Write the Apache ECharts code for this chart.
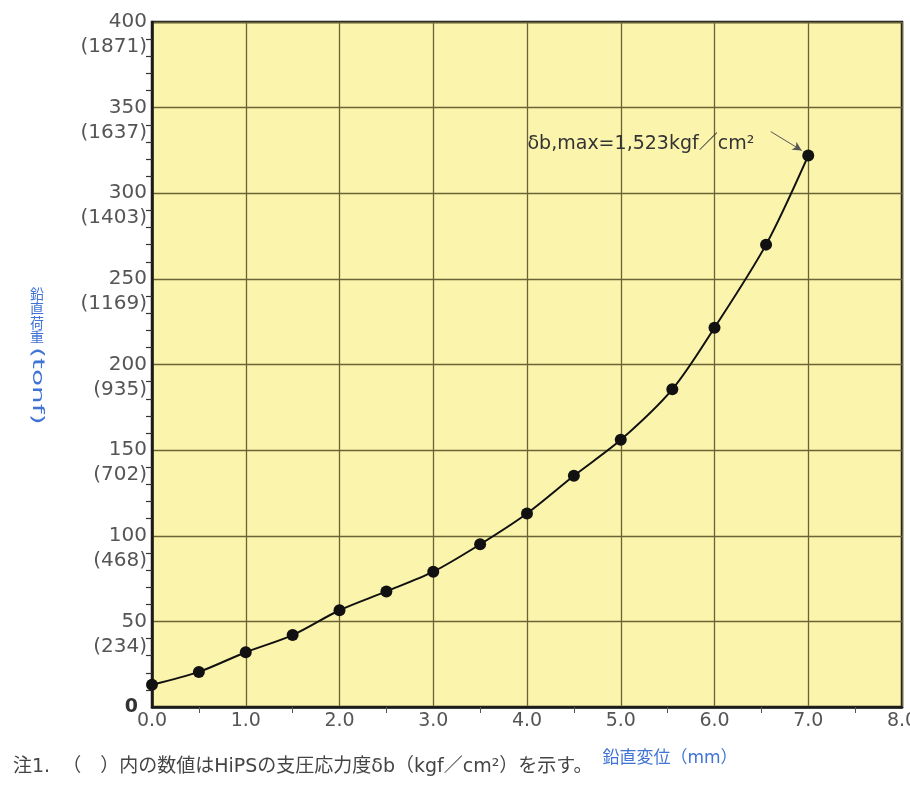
<!DOCTYPE html>
<html><head><meta charset="utf-8">
<script src="https://cdn.jsdelivr.net/npm/echarts@6/dist/echarts.min.js"></script>
<style>html,body{margin:0;padding:0;background:#fff}#c{width:910px;height:805px}</style>
</head><body><div id="c"></div>
<script>
// Data
const displacement = [0.0, 0.5, 1.0, 1.5, 2.0, 2.5, 3.0, 3.5, 4.0, 4.5, 5.0, 5.55, 6.0, 6.55, 7.0];
const load = [13, 20.5, 32, 42, 56.5, 67.5, 79, 95, 113, 135, 156, 185.5, 221.5, 270, 322];
const loadTicks = [0, 50, 100, 150, 200, 250, 300, 350, 400];
const stressTicks = [null, 234, 468, 702, 935, 1169, 1403, 1637, 1871];
const xTicks = ['0.0','1.0','2.0','3.0','4.0','5.0','6.0','7.0','8.0'];
const annotationText = 'δb,max=1,523kgf／cm²';
const xName = '鉛直変位（mm）';
const yNameJa = '鉛直荷重';
const yNameUnit = '(tonf)';
const footnote = '注1.  （　）内の数値はHiPSの支圧応力度δb（kgf／cm²）を示す。';

const FONT = '"DejaVu Sans", "Noto Sans CJK JP", sans-serif';
const CJK = '"Noto Sans CJK JP", sans-serif';
const chart = echarts.init(document.getElementById('c'));
const pts = displacement.map((x, i) => [x, load[i]]);

chart.setOption({
  backgroundColor: '#ffffff',
  animation: false,
  grid: { left: 152, right: 8, top: 22, bottom: 98, show: true, backgroundColor: '#fbf4ac', borderColor: '#1a1a1a', borderWidth: 2.5, containLabel: false, outerBoundsMode: 'none' },
  xAxis: {
    type: 'value', min: 0, max: 8, interval: 1,
    axisLine: { show: true, lineStyle: { color: '#1a1a1a', width: 2.5 } },
    axisTick: { show: false },
    minorTick: { show: true, splitNumber: 2, length: 6, lineStyle: { color: '#555', width: 1 } },
    splitLine: { show: true, lineStyle: { color: '#6a6336', width: 1.3 } },
    axisLabel: { color: '#555', fontSize: 19, fontFamily: FONT, margin: 5,
      formatter: v => xTicks[Math.round(v)] },
    name: xName, nameLocation: 'middle', nameGap: 43,
    nameTextStyle: { color: '#3f73d6', fontSize: 17, fontFamily: FONT, padding: [0, 0, 0, 286] }
  },
  yAxis: {
    type: 'value', min: 0, max: 400, interval: 50,
    axisLine: { show: true, lineStyle: { color: '#1a1a1a', width: 2.5 } },
    axisTick: { show: false },
    minorTick: { show: true, splitNumber: 5, length: 6, lineStyle: { color: '#333', width: 1.2 } },
    splitLine: { show: true, lineStyle: { color: '#6a6336', width: 1.3 } },
    axisLabel: {
      color: '#555', fontSize: 20, fontFamily: FONT, margin: 5, lineHeight: 25, align: 'right',
      formatter: v => {
        const i = loadTicks.indexOf(v);
        if (v === 0) return '{z|0}';
        return '\n' + v + '\n(' + stressTicks[i] + ')';
      },
      rich: { z: { fontWeight: 'bold', fontSize: 19, color: '#333', fontFamily: FONT, padding: [0, 9, 0, 0] } }
    }
  },
  graphic: [
    { type: 'text', left: 30, top: 286, style: { text: yNameJa.split('').join('\n'), fill: '#3f73d6', font: '14px ' + CJK, lineHeight: 14.5, textAlign: 'left' } },
    { type: 'text', x: 29, y: 347, rotation: -Math.PI / 2, scaleX: 1.75, style: { text: yNameUnit, fill: '#3f73d6', font: '16px "DejaVu Sans"', textAlign: 'left', textVerticalAlign: 'bottom' } },
    { type: 'text', left: 13, top: 758, style: { text: footnote, fill: '#444', font: '19px ' + FONT } }
  ],
  series: [{
    type: 'line', data: pts, smooth: 0.3,
    symbol: 'circle', symbolSize: 12,
    itemStyle: { color: '#111' },
    lineStyle: { color: '#111', width: 2 },
    markPoint: {
      symbol: 'circle', symbolSize: 1, itemStyle: { color: 'rgba(0,0,0,0)' },
      data: [{ coord: [4.0, 329] }],
      label: { show: true, formatter: annotationText, position: 'right', color: '#333', fontSize: 19, fontFamily: FONT, distance: 0 }
    },
    markLine: {
      silent: true, symbol: ['none', 'arrow'], symbolSize: [7, 9],
      lineStyle: { color: '#555', width: 1, type: 'solid' }, label: { show: false },
      data: [[{ coord: [6.6, 336] }, { coord: [6.93, 325] }]]
    }
  }]
});
</script></body></html>
